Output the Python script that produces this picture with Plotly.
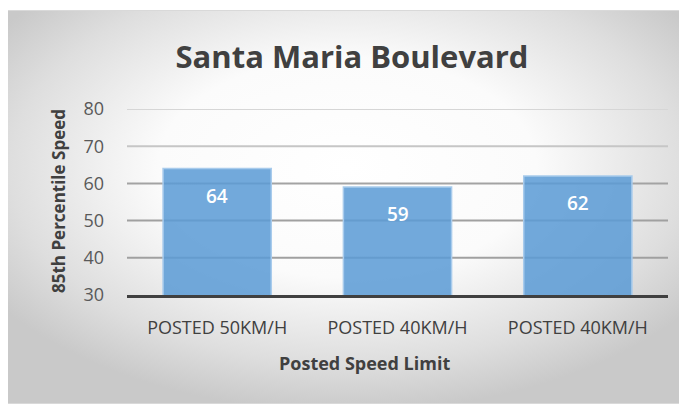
import base64
import plotly.graph_objects as go

# ---- data ----
categories = ["POSTED 50KM/H", "POSTED 40KM/H", "POSTED 40KM/H "]
category_labels = ["POSTED 50KM/H", "POSTED 40KM/H", "POSTED 40KM/H"]
speeds_85th = [64, 59, 62]
y_ticks = [30, 40, 50, 60, 70, 80]
grid_ticks = [40, 50, 60, 70, 80]
grid_colors = ["#a0a0a0", "#a0a0a0", "#a3a3a3", "#c6c6c6", "#d6d6d6"]

OFF = 8  # page body margin
W, H = 687 - OFF, 404 - OFF
# plot area bounds in page pixels
PL, PR, PT, PB = 127, 668, 109, 295
L, R, T, B = PL - OFF, PR - OFF, PT - OFF, PB - OFF


def px_x(p):
    return (p - PL) / (PR - PL)


def px_y(p):
    return (PB - p) / (PB - PT)


svg = (
    '<svg xmlns="http://www.w3.org/2000/svg" width="680" height="394" viewBox="0 0 680 394" '
    'preserveAspectRatio="none">'
    '<defs><radialGradient id="g" cx="50%" cy="40%" r="62%" fx="50%" fy="40%">'
    '<stop offset="0" stop-color="#ffffff"/>'
    '<stop offset="0.45" stop-color="#fbfbfb"/>'
    '<stop offset="0.8" stop-color="#dedede"/>'
    '<stop offset="1" stop-color="#c9c9c9"/>'
    '</radialGradient></defs>'
    '<rect x="0" y="0" width="680" height="394" fill="url(#g)"/></svg>'
)
bg_uri = "data:image/svg+xml;base64," + base64.b64encode(svg.encode()).decode()

fig = go.Figure()
fig.add_trace(go.Bar(
    x=categories,
    y=speeds_85th,
    width=0.6,
    marker=dict(color="rgba(91,155,213,0.86)", line=dict(color="#a8cbec", width=1.5)),
    hoverinfo="skip",
))

annotations = []
for c, v in zip(categories, speeds_85th):
    annotations.append(dict(
        x=c, y=v, xref="x", yref="y", text=str(v), showarrow=False,
        yanchor="middle", yshift=-27,
        font=dict(family="Open Sans", size=19, color="white", weight=600),
    ))
# axis titles
annotations.append(dict(
    x=px_x(364), y=px_y(363), xref="paper", yref="paper", text="Posted Speed Limit",
    showarrow=False, xanchor="center", yanchor="middle",
    font=dict(family="Open Sans", size=18, color="#404040", weight=700),
))
annotations.append(dict(
    x=px_x(58), y=px_y(201), xref="paper", yref="paper", text="85th Percentile Speed",
    showarrow=False, xanchor="center", yanchor="middle", textangle=-90,
    font=dict(family="Open Sans", size=17, color="#404040", weight=700),
))

shapes = [dict(
    type="rect", xref="paper", yref="paper",
    x0=px_x(7.5), x1=px_x(686.5), y0=px_y(403.5), y1=px_y(10.5),
    line=dict(color="#d9d9d9", width=1), fillcolor="rgba(0,0,0,0)", layer="below",
)]
for t, col in zip(grid_ticks, grid_colors):
    shapes.append(dict(
        type="line", xref="paper", yref="y", x0=0, x1=1, y0=t, y1=t,
        line=dict(color=col, width=2), layer="below",
    ))

fig.update_layout(
    width=W, height=H,
    margin=dict(l=L, r=W - R, t=T, b=H - B, pad=0),
    paper_bgcolor="white",
    plot_bgcolor="rgba(0,0,0,0)",
    showlegend=False,
    title=dict(
        text="Santa Maria Boulevard", x=(352 - OFF) / W, xref="container", xanchor="center",
        y=1 - (57 - OFF) / H, yref="container", yanchor="middle",
        font=dict(family="Open Sans", size=31, color="#404040", weight=700),
    ),
    xaxis=dict(
        tickvals=categories, ticktext=category_labels,
        showgrid=False, showline=True, linecolor="#404040", linewidth=3,
        ticks="", ticklabelstandoff=14,
        tickfont=dict(family="Open Sans", size=18, color="#404040"),
        fixedrange=True,
    ),
    yaxis=dict(
        range=[30, 80], tickvals=y_ticks, showgrid=False, zeroline=False,
        showline=False, ticks="", ticklabelstandoff=22,
        tickfont=dict(family="Open Sans", size=18, color="#595959"),
        fixedrange=True,
    ),
    images=[dict(
        source=bg_uri, xref="paper", yref="paper",
        x=px_x(7), y=px_y(10), sizex=(687 - 7) / (PR - PL), sizey=(404 - 10) / (PB - PT),
        xanchor="left", yanchor="top", sizing="stretch", layer="below",
    )],
    shapes=shapes,
    annotations=annotations,
)

fig.write_html("out.html")
